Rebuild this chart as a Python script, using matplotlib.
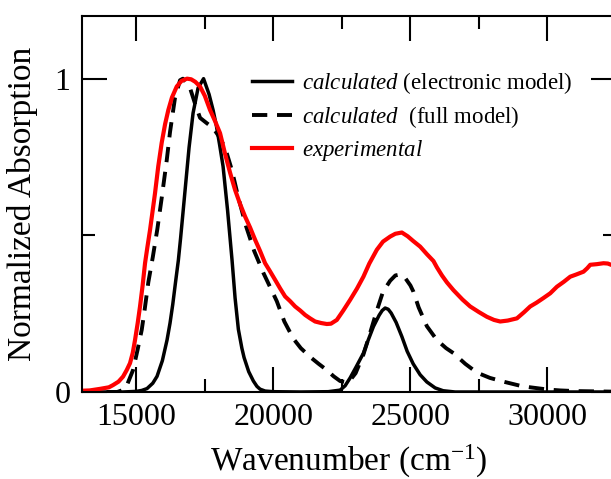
import matplotlib
matplotlib.use("Agg")
import matplotlib.pyplot as plt

plt.rcParams['font.family'] = ['Liberation Serif', 'DejaVu Serif']
plt.rcParams['mathtext.fontset'] = 'custom'
plt.rcParams['mathtext.rm'] = 'Liberation Serif'
plt.rcParams['mathtext.it'] = 'Liberation Serif:italic'
plt.rcParams['lines.scale_dashes'] = False

# ---- data ----
elec_x = [13000, 14500, 15000, 15200, 15391, 15600, 15756, 15950, 16121, 16230, 16330, 16430,
          16533, 16614, 16700, 16796, 16924, 17070, 17252, 17453, 17654, 17800, 17920, 18037,
          18165, 18329, 18493, 18603, 18723, 18850, 18931, 19100, 19271, 19400, 19515, 19700,
          20000, 21000, 22000, 22435, 22618, 22800, 23019, 23286, 23457, 23651, 23859, 23970,
          24078, 24190, 24297, 24479, 24687, 24881, 25100, 25355, 25600, 25903, 26195, 26633,
          28000, 30000, 32500]
elec_y = [0.0, 0.0, 0.002, 0.005, 0.011, 0.028, 0.05, 0.10, 0.166, 0.22, 0.28, 0.35,
          0.42, 0.49, 0.57, 0.66, 0.78, 0.89, 0.97, 1.0, 0.95, 0.90, 0.85, 0.79,
          0.72, 0.58, 0.42, 0.30, 0.20, 0.14, 0.11, 0.065, 0.035, 0.018, 0.009, 0.003,
          0.001, 0.0, 0.001, 0.006, 0.02, 0.045, 0.08, 0.124, 0.165, 0.209, 0.245, 0.26,
          0.268, 0.264, 0.252, 0.222, 0.177, 0.13, 0.09, 0.055, 0.032, 0.013, 0.004, 0.0,
          0.0, 0.0, 0.0]

full_x = [13000, 14300, 14500, 14650, 14880, 15044, 15197, 15300, 15438, 15600, 15767, 15927,
          16110, 16230, 16413, 16595, 16700, 16800, 16960, 17143, 17325, 17570, 17800, 18019,
          18238, 18480, 18723, 19000, 19300, 19636, 19880, 20124, 20400, 20731, 21000, 21340,
          21650, 21950, 22200, 22435, 22730, 23000, 23286, 23500, 23775, 24000, 24260, 24450,
          24625, 24800, 25000, 25110, 25300, 25600, 25965, 26300, 26570, 27000, 27425, 27900,
          28395, 29000, 29370, 30000, 30465, 31000, 32500]
full_y = [0.0, 0.0, 0.006, 0.02, 0.07, 0.134, 0.198, 0.26, 0.35, 0.43, 0.52, 0.62,
          0.74, 0.83, 0.94, 0.995, 1.0, 0.99, 0.97, 0.92, 0.875, 0.858, 0.843, 0.815,
          0.78, 0.71, 0.62, 0.53, 0.45, 0.38, 0.335, 0.29, 0.225, 0.17, 0.14, 0.112,
          0.09, 0.07, 0.05, 0.035, 0.03, 0.06, 0.12, 0.18, 0.26, 0.32, 0.355, 0.372,
          0.375, 0.365, 0.34, 0.32, 0.27, 0.21, 0.166, 0.14, 0.124, 0.09, 0.062, 0.045,
          0.033, 0.02, 0.015, 0.008, 0.005, 0.003, 0.001]

exp_x = [13000, 13300, 13675, 14000, 14150, 14350, 14515, 14650, 14770, 14870, 14953, 15050,
         15135, 15230, 15318, 15400, 15500, 15683, 15800, 15925, 16050, 16168, 16300, 16475,
         16650, 16850, 17000, 17150, 17325, 17500, 17690, 17870, 18055, 18238, 18420, 18603,
         18785, 18968, 19150, 19333, 19515, 19698, 19880, 20063, 20250, 20428, 20610, 20793,
         20980, 21158, 21340, 21523, 21750, 21950, 22100, 22315, 22550, 22800, 23050, 23285,
         23500, 23775, 24000, 24260, 24450, 24687, 24900, 25100, 25355, 25600, 25840, 25965,
         26150, 26330, 26570, 26900, 27180, 27500, 27790, 28050, 28275, 28550, 28885, 29150,
         29370, 29600, 29855, 30100, 30345, 30600, 30830, 31050, 31315, 31450, 31560, 31800,
         32045, 32200, 32500]
exp_y = [0.004, 0.005, 0.01, 0.015, 0.022, 0.033, 0.049, 0.07, 0.092, 0.125, 0.166, 0.22,
         0.273, 0.34, 0.411, 0.46, 0.517, 0.635, 0.72, 0.795, 0.855, 0.90, 0.94, 0.975,
         0.993, 1.0, 0.998, 0.99, 0.975, 0.945, 0.90, 0.865, 0.826, 0.76, 0.70, 0.645,
         0.60, 0.56, 0.525, 0.486, 0.45, 0.411, 0.385, 0.358, 0.33, 0.305, 0.29, 0.273,
         0.26, 0.246, 0.235, 0.225, 0.22, 0.217, 0.218, 0.23, 0.26, 0.294, 0.33, 0.368,
         0.41, 0.454, 0.48, 0.496, 0.505, 0.509, 0.497, 0.482, 0.464, 0.44, 0.418, 0.398,
         0.372, 0.35, 0.325, 0.295, 0.273, 0.255, 0.24, 0.23, 0.225, 0.228, 0.235, 0.255,
         0.273, 0.285, 0.30, 0.315, 0.336, 0.352, 0.368, 0.375, 0.384, 0.395, 0.406, 0.408,
         0.411, 0.41, 0.40]

x_major = [15000, 20000, 25000, 30000]
x_minor = [17500, 22500, 27500, 32500]
y_major = [0, 1]
y_minor = [0.5]

labels = [r'$\mathit{calculated}$ (electronic model)',
          r'$\mathit{calculated}$  (full model)',
          r'$\mathit{experimental}$']

# ---- figure ----
fig = plt.figure(figsize=(6.11, 4.79), dpi=100)
ax = fig.add_axes([81.5 / 611, 87 / 479, 534.5 / 611, 376 / 479])

ax.plot(elec_x, elec_y, color='black', lw=2.5, label=labels[0])
ax.plot(full_x, full_y, color='black', lw=2.8, dashes=(11, 7), label=labels[1])
ax.plot(exp_x, exp_y, color='#ff0000', lw=3.0, label=labels[2])

ax.set_xlim(13000, 32500)
ax.set_ylim(0, 1.2)
ax.set_xticks(x_major)
ax.set_xticks(x_minor, minor=True)
ax.set_yticks(y_major)
ax.set_yticks(y_minor, minor=True)
ax.set_xticklabels([str(v) for v in x_major])
ax.set_yticklabels([str(v) for v in y_major])

ax.tick_params(which='both', direction='in', top=True, right=True, width=1.5,
               labelsize=23, colors='black')
ax.tick_params(which='major', length=18, pad=8)
ax.tick_params(which='minor', length=9.5)
for s in ax.spines.values():
    s.set_linewidth(1.5)

ax.set_xlabel(r'Wavenumber (cm$^{\mathregular{-1}}$)', fontsize=24, labelpad=8)
ax.set_ylabel('Normalized Absorption', fontsize=24, labelpad=12)

leg = ax.legend(loc='upper left', bbox_to_anchor=(0.319, 0.855), frameon=False,
                fontsize=16.5, handlelength=1.75, handletextpad=0.45,
                labelspacing=0.35, borderpad=0, borderaxespad=0)

fig.savefig('out.png', dpi=100)
